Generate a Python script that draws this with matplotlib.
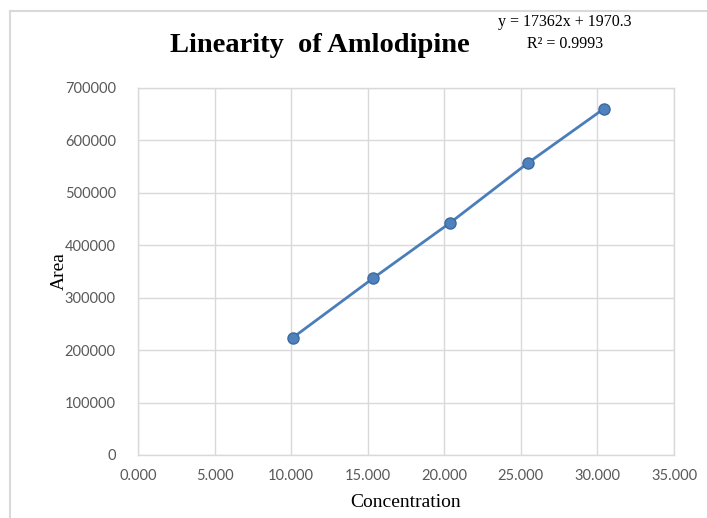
import matplotlib
matplotlib.use("Agg")
import matplotlib.pyplot as plt
from matplotlib.lines import Line2D

concentration = [10.10, 15.37, 20.35, 25.48, 30.44]
area = [223600, 337600, 442200, 557400, 660800]
x_ticks = [0, 5, 10, 15, 20, 25, 30, 35]
y_ticks = [0, 100000, 200000, 300000, 400000, 500000, 600000, 700000]

title = "Linearity  of Amlodipine"
equation = "y = 17362x + 1970.3"
r2 = "R\u00b2 = 0.9993"

fig = plt.figure(figsize=(7.07, 5.18), dpi=100)
ax = fig.add_axes([138/707, 1-455/518, (674-138)/707, (455-88)/518])

ax.plot(concentration, area, color="#4a7ebb", lw=2, marker="o", markersize=8,
        markerfacecolor="#4f81bd", markeredgecolor="#3b6aa0", markeredgewidth=1, zorder=3)

ax.set_xlim(0, 35)
ax.set_ylim(0, 700000)
ax.set_xticks(x_ticks)
ax.set_xticklabels([f"{v:.3f}" for v in x_ticks])
ax.set_yticks(y_ticks)
ax.set_yticklabels([f"{v}" for v in y_ticks])
ax.grid(True, color="#d9d9d9", lw=1)
ax.set_axisbelow(True)
for s in ax.spines.values():
    s.set_color("#d9d9d9")
    s.set_linewidth(1)
ax.tick_params(length=0, labelsize=10.5, colors="#595959")
ax.tick_params(axis="x", pad=10)
ax.tick_params(axis="y", pad=16)
for lab in ax.get_xticklabels() + ax.get_yticklabels():
    lab.set_family("Lato")

ax.set_xlabel("Concentration", family="Liberation Serif", fontsize=14, color="black", labelpad=8)
ax.set_ylabel("Area", family="Liberation Serif", fontsize=14, color="black", labelpad=-2)

fig.text(320/707, 1-46/518, title, family="Liberation Serif", fontweight="bold",
         fontsize=20.5, ha="center", va="center")
fig.text(565/707, 1-22/518, equation, family="Liberation Serif", fontsize=11.5,
         ha="center", va="center")
fig.text(565/707, 1-44/518, r2, family="Liberation Serif", fontsize=11.5,
         ha="center", va="center")

# chart-area border (left and top visible)
fig.add_artist(Line2D([10/707, 10/707], [0, 1-11/518], transform=fig.transFigure,
                      color="#d9d9d9", lw=1.5))
fig.add_artist(Line2D([10/707, 1], [1-11/518, 1-11/518], transform=fig.transFigure,
                      color="#d9d9d9", lw=1.5))

fig.savefig("out.png", dpi=100)
